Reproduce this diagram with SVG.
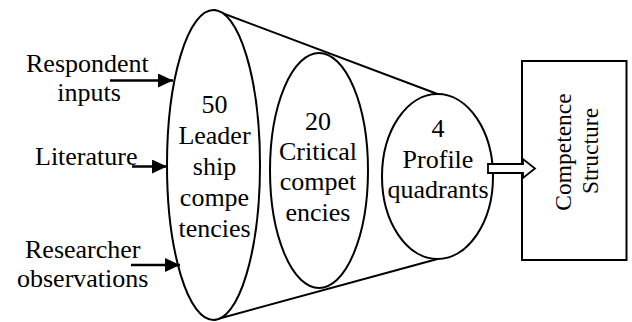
<svg xmlns="http://www.w3.org/2000/svg" width="632" height="322" viewBox="0 0 632 322">
  <style>
    .lbl { font-family: "Liberation Serif", "Times New Roman", serif; font-size: 26px; fill: #000; }
    .mid { text-anchor: middle; }
    .box-lbl { font-family: "Liberation Serif", "Times New Roman", serif; font-size: 23.5px; fill: #000; text-anchor: middle; }
    .outline { fill: none; stroke: #000; stroke-width: 2; }
    .stage { fill: #fff; stroke: #000; stroke-width: 2; }
    .feed { stroke: #000; stroke-width: 2.6; fill: none; marker-end: url(#tri); }
  </style>
  <defs>
    <marker id="tri" viewBox="0 0 15 14" refX="15" refY="7" markerWidth="15" markerHeight="14" markerUnits="userSpaceOnUse" orient="auto">
      <path d="M0,0 L15,7 L0,14 Z" fill="#000"/>
    </marker>
  </defs>

  <rect width="632" height="322" fill="#fff"/>

  <!-- funnel sides -->
  <g id="funnel">
    <line class="outline" x1="214" y1="10" x2="437.5" y2="94"/>
    <line class="outline" x1="214" y1="320" x2="437.5" y2="259"/>
  </g>

  <!-- input labels -->
  <g id="input-respondent">
    <text class="lbl" x="26" y="71.5">Respondent</text>
    <text class="lbl mid" x="89" y="101">inputs</text>
  </g>
  <g id="input-literature">
    <text class="lbl" x="35" y="165">Literature</text>
  </g>
  <g id="input-researcher">
    <text class="lbl" x="25" y="258">Researcher</text>
    <text class="lbl" x="17" y="287">observations</text>
  </g>

  <!-- funnel stages -->
  <g id="stage-50">
    <ellipse class="stage" cx="213.5" cy="165" rx="46.5" ry="155"/>
    <text class="lbl mid" x="214.5" y="112.5">50</text>
    <text class="lbl mid" x="214.5" y="143.5">Leader</text>
    <text class="lbl mid" x="214.5" y="174.5">ship</text>
    <text class="lbl mid" x="214.5" y="205.5">compe</text>
    <text class="lbl mid" x="214.5" y="236.5">tencies</text>
  </g>
  <g id="stage-20">
    <ellipse class="stage" cx="319" cy="170.5" rx="49" ry="117.5"/>
    <text class="lbl mid" x="318" y="130">20</text>
    <text class="lbl mid" x="318" y="160">Critical</text>
    <text class="lbl mid" x="318" y="190">compet</text>
    <text class="lbl mid" x="318" y="221">encies</text>
  </g>
  <g id="stage-4">
    <ellipse class="stage" cx="437.5" cy="176.5" rx="55.5" ry="82.5"/>
    <text class="lbl mid" x="438" y="137">4</text>
    <text class="lbl mid" x="438" y="168">Profile</text>
    <text class="lbl mid" x="438" y="198">quadrants</text>
  </g>

  <!-- result box -->
  <g id="competence-structure">
    <rect x="522" y="61" width="104.5" height="199" fill="#fff" stroke="#000" stroke-width="2"/>
    <text class="box-lbl" transform="translate(571,152) rotate(-90)">Competence</text>
    <text class="box-lbl" transform="translate(598,151) rotate(-90)">Structure</text>
  </g>

  <!-- connectors -->
  <g id="connectors">
    <line class="feed" x1="110" y1="80.5" x2="173" y2="80.5"/>
    <line class="feed" x1="132" y1="166.5" x2="167" y2="166.5"/>
    <line class="feed" x1="131" y1="265" x2="180" y2="265"/>
    <polygon points="488,164 523,164 523,159 535,168.5 523,178 523,173 488,173" fill="#fff" stroke="#000" stroke-width="1.8" stroke-linejoin="miter"/>
  </g>
</svg>
